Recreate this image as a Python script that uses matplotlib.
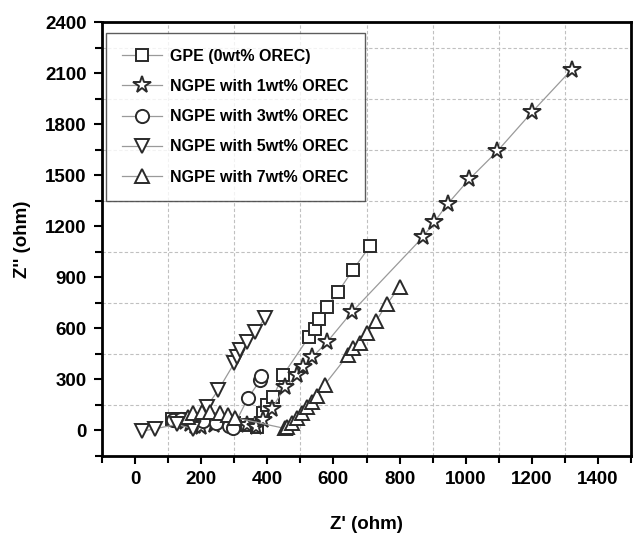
import matplotlib.pyplot as plt
from matplotlib.ticker import MultipleLocator

plt.rcParams['font.family'] = ['Liberation Sans', 'DejaVu Sans']
plt.rcParams['font.weight'] = 'bold'

# Datos (Z' , Z'')
gpe_x = [112, 130, 151, 180, 220, 260, 300, 340, 368, 387, 400, 417, 447, 525, 544, 556, 580, 613, 658, 710]
gpe_y = [65, 70, 70, 70, 65, 55, 45, 30, 20, 100, 150, 194, 323, 547, 594, 653, 723, 811, 941, 1082]

ng1_x = [150, 165, 180, 200, 240, 290, 340, 365, 387, 414, 453, 489, 508, 535, 580, 655, 870, 905, 945, 1010, 1095, 1200, 1320]
ng1_y = [50, 40, 25, 20, 30, 35, 30, 20, 59, 129, 253, 323, 370, 429, 518, 694, 1135, 1225, 1330, 1475, 1640, 1870, 2120]

ng3_x = [115, 140, 170, 205, 245, 285, 296, 341, 378, 380]
ng3_y = [60, 65, 65, 55, 45, 25, 15, 188, 294, 320]

ng5_x = [21, 60, 127, 175, 217, 251, 300, 308, 317, 338, 362, 393]
ng5_y = [-5, 10, 35, 10, 140, 235, 395, 430, 470, 517, 576, 659]

ng7_x = [160, 175, 202, 228, 257, 280, 302, 453, 459, 474, 489, 504, 519, 535, 550, 574,
         643, 658, 679, 700, 728, 761, 800]
ng7_y = [80, 100, 108, 108, 100, 90, 75, 12, 20, 45, 75, 105, 135, 165, 205, 270,
         441, 482, 512, 570, 641, 741, 845]

series = [
    (gpe_x, gpe_y, 's', 8.5, 'GPE (0wt% OREC)'),
    (ng1_x, ng1_y, '*', 13, 'NGPE with 1wt% OREC'),
    (ng3_x, ng3_y, 'o', 9.5, 'NGPE with 3wt% OREC'),
    (ng5_x, ng5_y, 'v', 10.5, 'NGPE with 5wt% OREC'),
    (ng7_x, ng7_y, '^', 10.5, 'NGPE with 7wt% OREC'),
]

fig = plt.figure(figsize=(6.33, 5.33), dpi=100)
ax = fig.add_axes([0.161, 0.1445, 0.836, 0.8142])

for x, y, m, ms, lab in series:
    ax.plot(x, y, color='#9a9a9a', lw=0.9, marker=m, markersize=ms,
            markerfacecolor='white', markeredgecolor='#2a2a2a',
            markeredgewidth=1.4, label=lab)

ax.set_xlim(-100, 1500)
ax.set_ylim(-150, 2400)
ax.xaxis.set_major_locator(MultipleLocator(200))
ax.xaxis.set_minor_locator(MultipleLocator(100))
ax.yaxis.set_major_locator(MultipleLocator(300))
ax.yaxis.set_minor_locator(MultipleLocator(150))
ax.set_xticks(range(0, 1401, 200))

# rejilla solo en las marcas menores
for v in range(100, 1501, 200):
    ax.axvline(v, color='#c0c0c0', lw=0.8, ls=(0, (3, 2)), zorder=0)
for v in range(150, 2400, 300):
    ax.axhline(v, color='#c0c0c0', lw=0.8, ls=(0, (3, 2)), zorder=0)

ax.tick_params(which='both', direction='out', width=1.5, labelsize=13.5, pad=5)
ax.tick_params(which='major', length=6)
ax.tick_params(which='minor', length=5)
for s in ax.spines.values():
    s.set_linewidth(2)

ax.set_xlabel("Z' (ohm)", fontsize=13.5, fontweight='bold', labelpad=20)
ax.set_ylabel("Z'' (ohm)", fontsize=13.5, fontweight='bold', labelpad=10)

leg = ax.legend(loc='upper left', bbox_to_anchor=(0.008, 0.975), borderaxespad=0,
                fontsize=11.5, frameon=True, fancybox=False, edgecolor='#333333',
                handlelength=2.5, handletextpad=0.5, labelspacing=0.95, borderpad=1.0)
leg.get_frame().set_linewidth(1.0)

fig.savefig('out.png', dpi=100)
